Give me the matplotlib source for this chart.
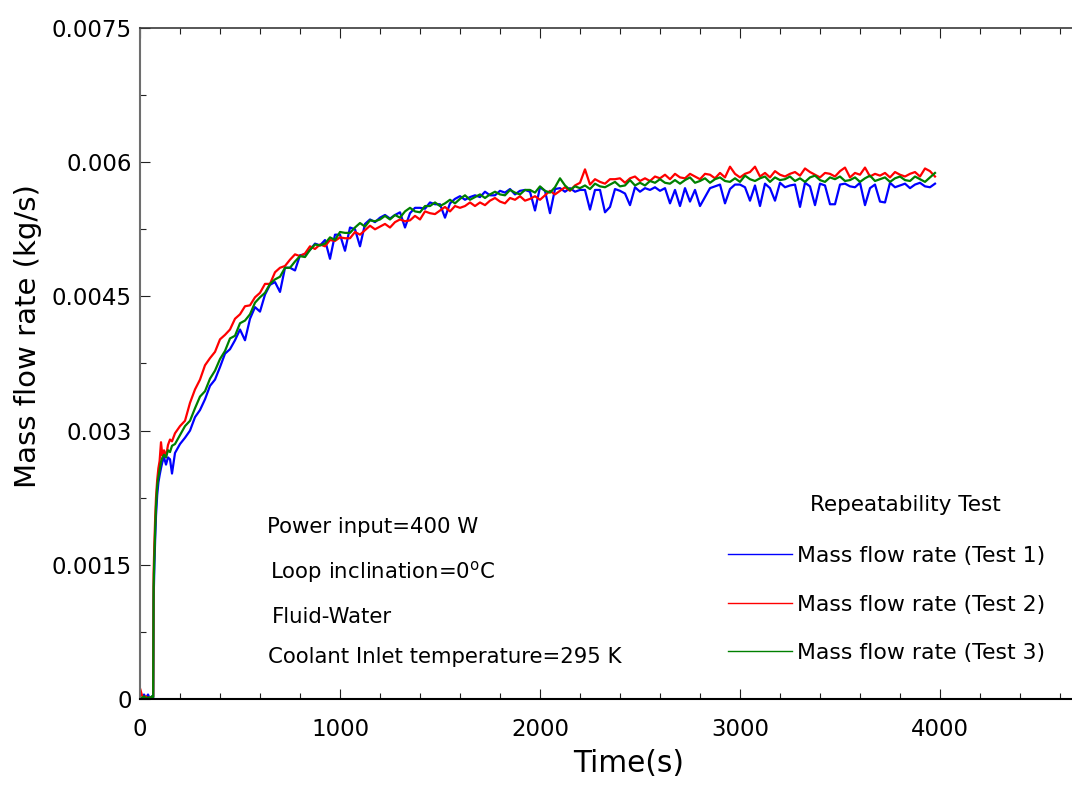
import matplotlib
matplotlib.use("Agg")
import matplotlib.pyplot as plt
from matplotlib.ticker import MultipleLocator

plt.rcParams["font.family"] = ["DejaVu Sans"]
plt.rcParams["mathtext.default"] = "regular"

# tempo (s) - leitura do grafico original
tempo = [
    0, 10, 20, 30, 40, 50, 60, 66, 68, 72, 76, 80, 86, 92, 98, 105, 112, 120,
    130, 140, 150, 160, 175, 200,
    225, 250, 275, 300, 325, 350, 375, 400, 425, 450,
    475, 500, 525, 550, 575, 600, 625, 650, 675, 700,
    725, 750, 775, 800, 825, 850, 875, 900, 925, 950,
    975, 1000, 1025, 1050, 1075, 1100, 1125, 1150, 1175, 1200,
    1225, 1250, 1275, 1300, 1325, 1350, 1375, 1400, 1425, 1450,
    1475, 1500, 1525, 1550, 1575, 1600, 1625, 1650, 1675, 1700,
    1725, 1750, 1775, 1800, 1825, 1850, 1875, 1900, 1925, 1950,
    1975, 2000, 2025, 2050, 2075, 2100, 2125, 2150, 2175, 2200,
    2225, 2250, 2275, 2300, 2325, 2350, 2375, 2400, 2425, 2450,
    2475, 2500, 2525, 2550, 2575, 2600, 2625, 2650, 2675, 2700,
    2725, 2750, 2775, 2800, 2825, 2850, 2875, 2900, 2925, 2950,
    2975, 3000, 3025, 3050, 3075, 3100, 3125, 3150, 3175, 3200,
    3225, 3250, 3275, 3300, 3325, 3350, 3375, 3400, 3425, 3450,
    3475, 3500, 3525, 3550, 3575, 3600, 3625, 3650, 3675, 3700,
    3725, 3750, 3775, 3800, 3825, 3850, 3875, 3900, 3925, 3950,
    3975,
]

# vazao massica (kg/s) - Test 1 (azul)
mdot_test1 = [
    0.00001, 0.00000, 0.00005, 0.00001, 0.00005, 0.00000, 0.00003, 0.00001,
    0.00110, 0.00150, 0.00180, 0.00205, 0.00228, 0.00242, 0.00250, 0.00258,
    0.00265, 0.00270, 0.00262, 0.00270, 0.00268, 0.00252, 0.00275, 0.00285,
    0.00292, 0.00300, 0.00315, 0.00323, 0.00335, 0.00350, 0.00357, 0.00371, 0.00386, 0.00391,
    0.00401, 0.00413, 0.00401, 0.00425, 0.00438, 0.00433, 0.00452, 0.00463, 0.00466, 0.00455,
    0.00482, 0.00482, 0.00479, 0.00496, 0.00497, 0.00502, 0.00509, 0.00507, 0.00513, 0.00492,
    0.00519, 0.00519, 0.00501, 0.00527, 0.00525, 0.00506, 0.00531, 0.00536, 0.00533, 0.00538,
    0.00541, 0.00537, 0.00541, 0.00544, 0.00527, 0.00543, 0.00549, 0.00549, 0.00548, 0.00555,
    0.00553, 0.00553, 0.00538, 0.00554, 0.00559, 0.00562, 0.00558, 0.00561, 0.00563, 0.00561,
    0.00567, 0.00563, 0.00563, 0.00568, 0.00566, 0.00570, 0.00564, 0.00568, 0.00569, 0.00567,
    0.00546, 0.00572, 0.00568, 0.00543, 0.00570, 0.00571, 0.00567, 0.00571, 0.00567, 0.00569,
    0.00569, 0.00547, 0.00569, 0.00569, 0.00544, 0.00550, 0.00570, 0.00568, 0.00565, 0.00552,
    0.00572, 0.00567, 0.00571, 0.00569, 0.00572, 0.00568, 0.00571, 0.00554, 0.00569, 0.00551,
    0.00571, 0.00556, 0.00569, 0.00551, 0.00561, 0.00571, 0.00573, 0.00575, 0.00554, 0.00570,
    0.00575, 0.00575, 0.00572, 0.00557, 0.00574, 0.00551, 0.00576, 0.00571, 0.00557, 0.00577,
    0.00572, 0.00574, 0.00575, 0.00550, 0.00577, 0.00573, 0.00552, 0.00576, 0.00574, 0.00553,
    0.00553, 0.00575, 0.00576, 0.00573, 0.00572, 0.00577, 0.00552, 0.00571, 0.00575, 0.00556,
    0.00555, 0.00577, 0.00572, 0.00574, 0.00576, 0.00571, 0.00575, 0.00577, 0.00573, 0.00572,
    0.00576,
]

# vazao massica (kg/s) - Test 2 (vermelho)
mdot_test2 = [
    0.00012, 0.00004, 0.00001, 0.00003, 0.00000, 0.00002, 0.00001, 0.00003,
    0.00140, 0.00175, 0.00203, 0.00225, 0.00245, 0.00258, 0.00266, 0.00287,
    0.00272, 0.00278, 0.00271, 0.00284, 0.00290, 0.00288, 0.00297, 0.00305,
    0.00311, 0.00331, 0.00346, 0.00357, 0.00373, 0.00381, 0.00388, 0.00402, 0.00407, 0.00413,
    0.00425, 0.00430, 0.00439, 0.00440, 0.00449, 0.00454, 0.00464, 0.00464, 0.00477, 0.00482,
    0.00484, 0.00491, 0.00497, 0.00495, 0.00498, 0.00506, 0.00503, 0.00508, 0.00506, 0.00513,
    0.00512, 0.00516, 0.00515, 0.00515, 0.00522, 0.00519, 0.00524, 0.00529, 0.00525, 0.00528,
    0.00531, 0.00527, 0.00533, 0.00536, 0.00534, 0.00535, 0.00540, 0.00536, 0.00545, 0.00543,
    0.00542, 0.00546, 0.00550, 0.00545, 0.00551, 0.00549, 0.00551, 0.00555, 0.00551, 0.00555,
    0.00552, 0.00557, 0.00560, 0.00556, 0.00554, 0.00560, 0.00558, 0.00562, 0.00557, 0.00559,
    0.00562, 0.00558, 0.00563, 0.00568, 0.00564, 0.00568, 0.00572, 0.00568, 0.00574, 0.00577,
    0.00592, 0.00575, 0.00581, 0.00578, 0.00576, 0.00581, 0.00581, 0.00582, 0.00577, 0.00582,
    0.00584, 0.00579, 0.00582, 0.00579, 0.00584, 0.00582, 0.00586, 0.00581, 0.00587, 0.00583,
    0.00582, 0.00587, 0.00584, 0.00581, 0.00587, 0.00586, 0.00582, 0.00588, 0.00583, 0.00595,
    0.00587, 0.00583, 0.00587, 0.00589, 0.00595, 0.00584, 0.00588, 0.00583, 0.00590, 0.00586,
    0.00584, 0.00587, 0.00589, 0.00585, 0.00593, 0.00589, 0.00586, 0.00583, 0.00588, 0.00587,
    0.00584, 0.00590, 0.00594, 0.00583, 0.00588, 0.00586, 0.00594, 0.00584, 0.00587, 0.00585,
    0.00588, 0.00583, 0.00589, 0.00586, 0.00584, 0.00587, 0.00589, 0.00584, 0.00593, 0.00590,
    0.00584,
]

# vazao massica (kg/s) - Test 3 (verde)
mdot_test3 = [
    0.00002, 0.00001, 0.00003, 0.00000, 0.00002, 0.00001, 0.00003, 0.00002,
    0.00125, 0.00160, 0.00190, 0.00215, 0.00238, 0.00248, 0.00256, 0.00265,
    0.00270, 0.00273, 0.00270, 0.00278, 0.00276, 0.00283, 0.00285, 0.00295,
    0.00305, 0.00311, 0.00325, 0.00338, 0.00344, 0.00358, 0.00367, 0.00380, 0.00389, 0.00403,
    0.00406, 0.00420, 0.00423, 0.00430, 0.00443, 0.00449, 0.00454, 0.00464, 0.00469, 0.00472,
    0.00482, 0.00482, 0.00489, 0.00495, 0.00494, 0.00502, 0.00508, 0.00507, 0.00509, 0.00516,
    0.00513, 0.00522, 0.00521, 0.00521, 0.00527, 0.00532, 0.00528, 0.00535, 0.00534, 0.00536,
    0.00540, 0.00536, 0.00541, 0.00538, 0.00545, 0.00549, 0.00545, 0.00544, 0.00551, 0.00551,
    0.00555, 0.00551, 0.00554, 0.00558, 0.00554, 0.00559, 0.00563, 0.00558, 0.00561, 0.00564,
    0.00560, 0.00564, 0.00567, 0.00564, 0.00563, 0.00569, 0.00566, 0.00564, 0.00569, 0.00569,
    0.00566, 0.00573, 0.00568, 0.00566, 0.00572, 0.00582, 0.00574, 0.00569, 0.00573, 0.00571,
    0.00574, 0.00570, 0.00576, 0.00573, 0.00572, 0.00575, 0.00578, 0.00573, 0.00574, 0.00580,
    0.00574, 0.00577, 0.00574, 0.00579, 0.00577, 0.00581, 0.00577, 0.00576, 0.00580, 0.00576,
    0.00580, 0.00583, 0.00577, 0.00579, 0.00582, 0.00577, 0.00581, 0.00583, 0.00579, 0.00578,
    0.00582, 0.00578, 0.00585, 0.00581, 0.00579, 0.00582, 0.00584, 0.00578, 0.00583, 0.00580,
    0.00581, 0.00584, 0.00579, 0.00582, 0.00578, 0.00583, 0.00585, 0.00580, 0.00578, 0.00583,
    0.00581, 0.00584, 0.00579, 0.00580, 0.00583, 0.00578, 0.00582, 0.00585, 0.00579, 0.00581,
    0.00583, 0.00578, 0.00582, 0.00584, 0.00580, 0.00579, 0.00584, 0.00581, 0.00578, 0.00583,
    0.00588,
]

serie_nomes = ["Mass flow rate (Test 1)", "Mass flow rate (Test 2)", "Mass flow rate (Test 3)"]
serie_cores = ["#0000ff", "#ff0000", "#008000"]

x_ticks = [0, 1000, 2000, 3000, 4000]
x_tick_labels = ["0", "1000", "2000", "3000", "4000"]
y_ticks = [0, 0.0015, 0.003, 0.0045, 0.006, 0.0075]
y_tick_labels = ["0", "0.0015", "0.003", "0.0045", "0.006", "0.0075"]

anotacoes = [
    "Power input=400 W",
    "Loop inclination=0$^{o}$C",
    "Fluid-Water",
    "Coolant Inlet temperature=295 K",
]

W, H = 1072, 785


def plotar_grafico():
    fig = plt.figure(figsize=(W / 100, H / 100), dpi=100)
    ax = fig.add_axes([140 / W, 86 / H, 940 / W, 671 / H])

    linhas = []
    for serie, nome, cor in zip([mdot_test1, mdot_test2, mdot_test3], serie_nomes, serie_cores):
        (ln,) = ax.plot(tempo, serie, color=cor, lw=1.6, label=nome)
        linhas.append(ln)

    ax.set_xlim(0, 4700)
    ax.set_ylim(0, 0.0075)
    ax.set_xticks(x_ticks)
    ax.set_xticklabels(x_tick_labels)
    ax.set_yticks(y_ticks)
    ax.set_yticklabels(y_tick_labels)
    ax.xaxis.set_minor_locator(MultipleLocator(200))
    ax.yaxis.set_minor_locator(MultipleLocator(0.00075))
    ax.tick_params(which="both", direction="in", top=True, right=False,
                   labelsize=16.5, width=0.8, color="#222222")
    ax.tick_params(which="major", length=7.5)
    ax.tick_params(which="minor", length=4.5)
    ax.tick_params(axis="x", pad=14)
    ax.tick_params(axis="y", pad=6)

    ax.spines["right"].set_visible(False)
    ax.spines["left"].set_color("#6e6e6e")
    ax.spines["left"].set_linewidth(1.5)
    ax.spines["top"].set_color("#3a3a3a")
    ax.spines["top"].set_linewidth(1.2)
    ax.spines["bottom"].set_color("black")
    ax.spines["bottom"].set_linewidth(1.5)

    ax.set_xlabel("Time(s)", fontsize=21.3, va="center")
    ax.xaxis.set_label_coords((629 - 140) / 940, (699 - 764) / 671)
    ax.set_ylabel("Mass flow rate (kg/s)", fontsize=21, va="center")
    ax.yaxis.set_label_coords((28 - 140) / 940, (699 - 336) / 671)

    # textos das condicoes do teste
    posicoes = [(267, 533), (270, 578), (272, 623), (268, 663)]
    for txt, (px, py) in zip(anotacoes, posicoes):
        fig.text(px / W, 1 - py / H, txt, fontsize=15.3, ha="left", va="baseline")

    fig.text(905 / W, 1 - 505 / H, "Repeatability Test", fontsize=15.5,
             ha="center", va="center")
    leg = ax.legend(linhas, serie_nomes, loc="upper left",
                    bbox_to_anchor=(728 / W, 1 - (555 - 9) / H),
                    bbox_transform=fig.transFigure, frameon=False, fontsize=15.8,
                    handlelength=2.9, handletextpad=0.25, labelspacing=1.3,
                    borderpad=0, borderaxespad=0)
    for h in leg.legend_handles:
        h.set_linewidth(1.0)

    fig.savefig("out.png", dpi=100)


if __name__ == "__main__":
    plotar_grafico()
